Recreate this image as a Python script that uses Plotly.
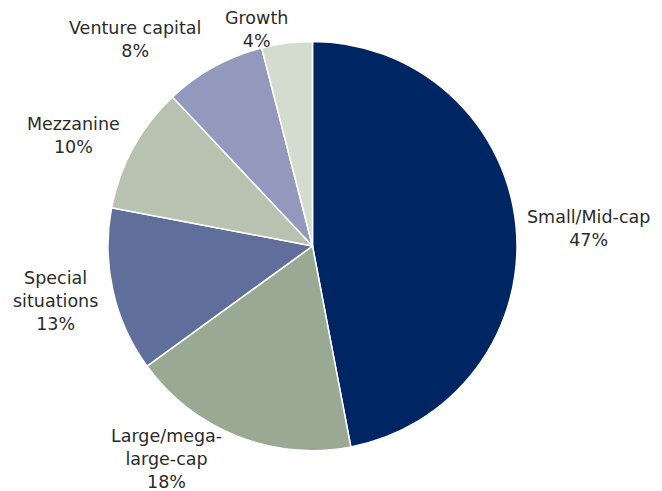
import plotly.graph_objects as go

categories = ["Small/Mid-cap", "Large/mega-large-cap", "Special situations",
              "Mezzanine", "Venture capital", "Growth"]
values = [47, 18, 13, 10, 8, 4]
label_text = ["Small/Mid-cap", "Large/mega-<br>large-cap", "Special<br>situations",
              "Mezzanine", "Venture capital", "Growth"]
colors = ["#002563", "#9aa994", "#606e9c", "#b7c3b0", "#9399bd", "#d3dccf"]

W, H = 662, 491
OFF = 8  # page body margin
cx, cy, r = 312.5 - OFF, 246 - OFF, 204.5

fig = go.Figure(go.Pie(
    labels=categories, values=values, sort=False, direction="clockwise",
    rotation=0, marker=dict(colors=colors, line=dict(color="white", width=1.5)),
    textinfo="none", hoverinfo="label+percent", showlegend=False,
    domain=dict(x=[(cx - r) / W, (cx + r) / W], y=[1 - (cy + r) / H, 1 - (cy - r) / H]),
))

# label anchor positions (pixel centres of text blocks in the screenshot)
label_pos = [(588, 228), (166, 459), (55, 301), (73, 135), (135, 39), (257, 29)]
total = sum(values)
for txt, v, (px, py) in zip(label_text, values, label_pos):
    pct = round(100 * v / total)
    fig.add_annotation(
        x=(px - OFF) / W, y=1 - (py - OFF) / H, xref="paper", yref="paper",
        text=f"{txt}<br>{pct}%", showarrow=False, align="center",
        xanchor="center", yanchor="middle",
        font=dict(family="DejaVu Sans", size=17.5, color="#2b2b2b"),
    )

fig.update_layout(width=W, height=H, margin=dict(l=0, r=0, t=0, b=0),
                  paper_bgcolor="white", plot_bgcolor="white")
fig.write_html("out.html")
